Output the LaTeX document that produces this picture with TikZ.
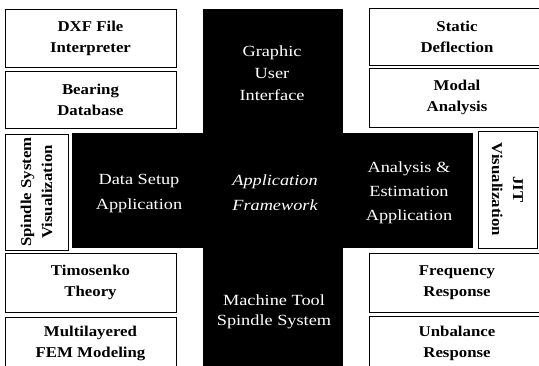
\documentclass[tikz,border=0pt]{standalone}
\usepackage{fontspec}
\setmainfont{Liberation Serif}
\newfontfamily\boxfont[FakeStretch=1.12]{Liberation Serif}
\newfontfamily\crossfont[FakeStretch=1.18]{Liberation Serif}
\begin{document}
\begin{tikzpicture}[x=1pt,y=-1pt,
  module/.style={draw=black, line width=0.8pt, fill=white, inner sep=0pt,
    align=center, font=\boxfont\bfseries\fontsize{15}{21}\selectfont},
  layer/.style={text=white, align=center, inner sep=0pt,
    font=\crossfont\fontsize{15.5}{22}\selectfont}]
\useasboundingbox (0,0) rectangle (539,366);
\begin{scope}
  \clip (0,0) rectangle (539,366);
  % the black cross of the framework
  \fill[black] (203,9) rectangle (343,372);
  \fill[black] (72,133) rectangle (473,248);

  % left column modules
  \node[module, minimum width=171, minimum height=58] (dxf) at (90.5,38)
    {DXF File\\Interpreter};
  \node[module, minimum width=171, minimum height=57] (bearing) at (90.5,99.5)
    {Bearing\\Database};
  \node[module, rotate=90, minimum width=116, minimum height=63] (spvis) at (36.5,192)
    {Spindle System\\Visualization};
  \node[module, minimum width=171, minimum height=59] (timo) at (90.5,282.5)
    {Timosenko\\Theory};
  \node[module, minimum width=171, minimum height=52] (fem) at (90.5,343)
    {Multilayered\\FEM Modeling};

  % right column modules
  \node[module, minimum width=176, minimum height=57] (static) at (457,36.5)
    {Static\\Deflection};
  \node[module, minimum width=176, minimum height=59] (modal) at (457,97.5)
    {Modal\\Analysis};
  \node[module, rotate=-90, minimum width=117, minimum height=59] (jit) at (507.5,189.5)
    {JIT\\Visualization};
  \node[module, minimum width=176, minimum height=59] (freq) at (457,282.5)
    {Frequency\\Response};
  \node[module, minimum width=176, minimum height=54] (unbal) at (457,343)
    {Unbalance\\Response};

  % labels on the cross
  \node[layer] (gui) at (272,73) {Graphic\\User\\Interface};
  \node[layer, font=\crossfont\fontsize{15.5}{25}\selectfont] (setup) at (139,194)
    {Data Setup\\Application};
  \node[layer, font=\crossfont\itshape\fontsize{15.5}{25}\selectfont] (frame) at (275,193)
    {Application\\Framework};
  \node[layer, font=\crossfont\fontsize{15.5}{24}\selectfont] (analysis) at (409,193)
    {Analysis \&\\Estimation\\Application};
  \node[layer, font=\crossfont\fontsize{15.5}{20}\selectfont] (machine) at (274,312)
    {Machine Tool\\Spindle System};
\end{scope}
\end{tikzpicture}
\end{document}
